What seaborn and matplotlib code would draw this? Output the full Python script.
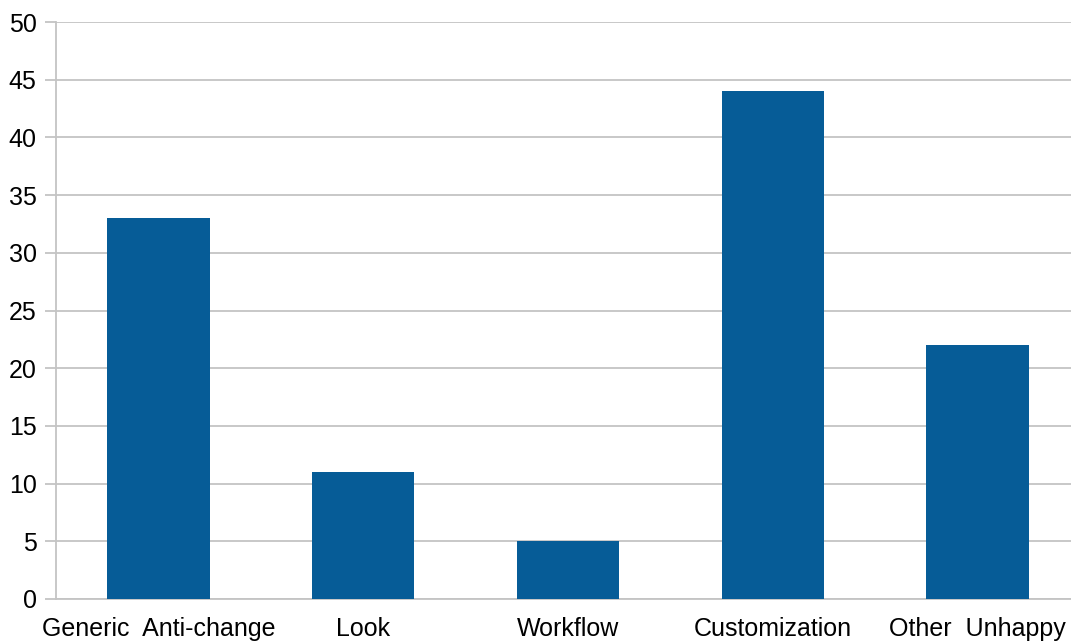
import numpy as np
import pandas as pd
import seaborn as sns
import matplotlib.pyplot as plt
from matplotlib.ticker import FixedLocator

# DATA
categories = ["Generic  Anti-change", "Look", "Workflow", "Customization", "Other  Unhappy"]
counts = [33, 11, 5, 44, 22]

df = pd.DataFrame({"category": categories, "count": counts})

sns.set_style("white")
plt.rcParams['font.family'] = ['Liberation Sans', 'DejaVu Sans']

grid_col = "#c4c4c4"
fig = plt.figure(figsize=(10.71, 6.41), dpi=100)
ax = fig.add_axes([56 / 1071, 42 / 641, 1024 / 1071, 577 / 641])

sns.barplot(data=df, x="category", y="count", color="#065c97", width=0.5,
            saturation=1, linewidth=0, ax=ax, zorder=3)

ax.set_ylim(0, 50)
ax.set_xlim(-0.5, len(categories) - 0.5)
ax.set_yticks(np.arange(0, 51, 5))
ax.yaxis.grid(True, color=grid_col, linewidth=1.3)
ax.set_axisbelow(True)
ax.set_xlabel("")
ax.set_ylabel("")

for side in ["top", "right"]:
    ax.spines[side].set_visible(False)
for side in ["left", "bottom"]:
    ax.spines[side].set_color(grid_col)
    ax.spines[side].set_linewidth(1.3)

# ticks between categories on x, outside ticks on y
ax.xaxis.set_minor_locator(FixedLocator(np.arange(-0.5, len(categories), 1.0)))
ax.tick_params(axis="x", which="major", length=0, labelsize=18, pad=13, colors="black")
ax.tick_params(axis="x", which="minor", length=6, width=1.3, color=grid_col, direction="out")
ax.tick_params(axis="y", length=8, width=1.3, color=grid_col, labelsize=18, pad=6,
               labelcolor="black", direction="out", left=True)

fig.savefig("out.png", dpi=100)
